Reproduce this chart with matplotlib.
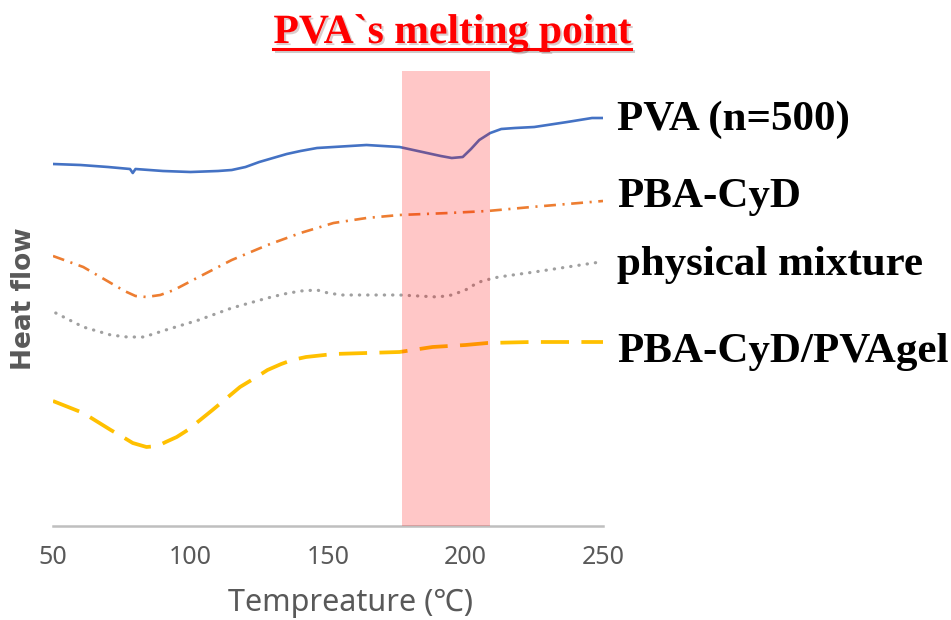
import numpy as np
import matplotlib.pyplot as plt
import matplotlib.patheffects as pe

# temperatures (deg C) and heat flow (arbitrary units)
t_pva = [50, 60, 70, 78, 79, 80, 90, 100, 110, 115, 120, 125, 130, 135, 140, 146, 152, 164,
         176, 181, 186, 191, 195, 199, 202, 205, 209, 213, 218, 225, 237, 246, 250]
hf_pva = [362, 361, 359, 357, 353, 357, 355, 354, 355, 356, 359, 364, 368, 372, 375, 378, 379, 381,
          379, 376, 373, 370, 368, 369, 377, 386, 393, 397, 398, 399, 404, 408, 408]

t_pba = [50, 61, 71, 76, 80, 84, 89, 94, 103, 115, 128, 140, 146, 152, 164, 176, 194,
         208, 224, 237, 250]
hf_pba = [270, 259, 243, 235, 230, 229, 231, 236, 249, 266, 281, 293, 298, 303, 308, 311, 313,
          315, 319, 322, 325]

t_mix = [51, 61, 71, 77, 83, 91, 103, 115, 128, 134, 140, 146, 150, 155, 164, 176, 190,
         195, 200, 203, 206, 212, 225, 237, 249]
hf_mix = [213, 199, 191, 189, 189, 196, 206, 218, 228, 232, 235, 236, 233, 231, 231, 231, 229,
          231, 236, 241, 245, 249, 254, 259, 264]

t_gel = [50, 61, 71, 76, 79, 84, 88, 91, 95, 99, 108, 118, 124, 128, 133, 137, 142, 152, 164,
         176, 188, 200, 208, 224, 237, 250]
hf_gel = [125, 113, 96, 88, 83, 79, 80, 84, 89, 96, 116, 139, 149, 156, 162, 166, 169, 172, 173,
          174, 179, 181, 183, 184, 184, 184]

labels = ['PVA (n=500)', 'PBA-CyD', 'physical mixture', 'PBA-CyD/PVAgel']
melt_range = (177, 209)
xticks = [50, 100, 150, 200, 250]

fig = plt.figure(figsize=(9.51, 6.2), dpi=100)
ax = fig.add_axes([53/951, 94/620, 550/951, 455/620])

ax.plot(t_pva, hf_pva, color='#4472C4', lw=1.9, solid_capstyle='round', solid_joinstyle='round')
ax.plot(t_pba, hf_pba, color='#ED7D31', lw=1.9, linestyle=(0, (4.5, 2.5, 0.8, 2.5)))
ax.plot(t_mix, hf_mix, color='#A0A0A0', lw=2.3, linestyle=(0, (0.1, 2.5)),
        dash_capstyle='round')
ax.plot(t_gel, hf_gel, color='#FFC000', lw=2.7, linestyle=(0, (7.5, 3.3)))

ax.axvspan(*melt_range, color='red', alpha=0.22, lw=0, zorder=3)

ax.set_xlim(50, 250)
ax.set_ylim(0, 455)
ax.set_yticks([])
ax.set_xticks(xticks)
ax.tick_params(axis='x', length=0, pad=14, labelsize=18, labelcolor='#595959')
for lab in ax.get_xticklabels():
    lab.set_family(['Noto Sans', 'DejaVu Sans'])
for s in ['top', 'right', 'left']:
    ax.spines[s].set_visible(False)
ax.spines['bottom'].set_color('#BFBFBF')
ax.spines['bottom'].set_linewidth(1.8)

sans = ['Noto Sans', 'Noto Sans CJK JP', 'DejaVu Sans']
fig.text(351/951, 1 - 603/620, 'Tempreature (℃)', ha='center', va='center',
         fontsize=22, color='#595959', family=sans)
fig.text(24/951, 1 - 299/620, 'Heat flow', ha='center', va='center', rotation=90,
         fontsize=19, color='#595959', fontweight='bold', family=['DejaVu Sans'])

serif = ['Liberation Serif', 'DejaVu Serif']
baselines = [130, 207, 275, 362]
for lab, b in zip(labels, baselines):
    fig.text(617/951, 1 - b/620, lab, ha='left', va='baseline', fontsize=31,
             fontweight='bold', family=serif, color='black')

title = fig.text(452/951, 1 - 43/620, 'PVA`s melting point', ha='center', va='baseline',
                 fontsize=30, fontweight='bold', family=serif, color='red',
                 path_effects=[pe.SimplePatchShadow(offset=(1.5, -1.5), alpha=0.2),
                               pe.Normal()])
fig.canvas.draw()
bb = title.get_window_extent().transformed(fig.transFigure.inverted())
fig.add_artist(plt.Line2D([bb.x0, bb.x1], [1 - 49/620, 1 - 49/620], color='red', lw=2.2,
                          path_effects=[pe.SimpleLineShadow(offset=(1.5, -1.5), alpha=0.2),
                                        pe.Normal()]))

fig.savefig('out.png', dpi=100)
